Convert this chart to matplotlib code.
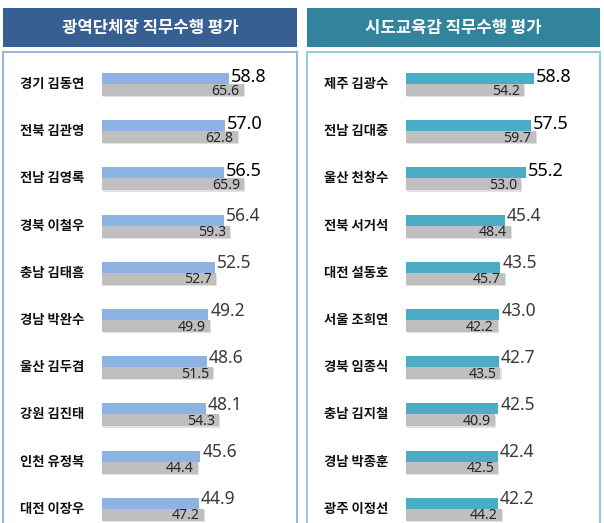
import matplotlib
matplotlib.use("Agg")
import matplotlib.pyplot as plt
from matplotlib.patches import Rectangle
import matplotlib.patheffects as pe

plt.rcParams['font.family'] = ['Noto Sans CJK KR', 'DejaVu Sans']

# ---- data ----
left_title = "광역단체장 직무수행 평가"
left_names = ["경기 김동연", "전북 김관영", "전남 김영록", "경북 이철우", "충남 김태흠",
              "경남 박완수", "울산 김두겸", "강원 김진태", "인천 유정복", "대전 이장우"]
left_now = [58.8, 57.0, 56.5, 56.4, 52.5, 49.2, 48.6, 48.1, 45.6, 44.9]
left_prev = [65.6, 62.8, 65.9, 59.3, 52.7, 49.9, 51.5, 54.3, 44.4, 47.2]

right_title = "시도교육감 직무수행 평가"
right_names = ["제주 김광수", "전남 김대중", "울산 천창수", "전북 서거석", "대전 설동호",
               "서울 조희연", "경북 임종식", "충남 김지철", "경남 박종훈", "광주 이정선"]
right_now = [58.8, 57.5, 55.2, 45.4, 43.5, 43.0, 42.7, 42.5, 42.4, 42.2]
right_prev = [54.2, 59.7, 53.0, 48.4, 45.7, 42.2, 43.5, 40.9, 42.5, 44.2]

W, H = 604, 523
fig = plt.figure(figsize=(W / 100, H / 100), dpi=100)
fig.patch.set_facecolor('white')

PX = 0.72  # points per pixel at dpi 100
num_font = ['Noto Sans', 'DejaVu Sans']


def panel(px_left, px_right, zero_px, scale, title, head_color, border_color,
          bar_color, names, now, prev):
    # header
    fig.add_artist(Rectangle((px_left / W, 1 - 47 / H), (px_right - px_left) / W, 39 / H,
                             transform=fig.transFigure, facecolor=head_color,
                             edgecolor='none'))
    fig.text((px_left + px_right) / 2 / W, 1 - 27.5 / H, title, color='white',
             fontsize=12, fontweight='bold', ha='center', va='center')

    top_px, row0_px, step = 52, 84, 47.2
    ax = fig.add_axes([px_left / W, 0, (px_right - px_left) / W, 1 - top_px / H])
    ax.set_xlim(-(zero_px - px_left) / scale, (px_right - zero_px) / scale)
    ax.set_ylim((H - row0_px) / step, (top_px - row0_px) / step)
    ax.set_xticks([])
    ax.set_yticks([])
    for s in ['left', 'right', 'top']:
        ax.spines[s].set_color(border_color)
        ax.spines[s].set_linewidth(1.4)
    ax.spines['bottom'].set_visible(False)

    hb = 11 / step
    hg = 12 / step
    ys = list(range(len(names)))
    ax.barh([y - hb for y in ys], now, height=hb, align='edge', color=bar_color,
            edgecolor='none', zorder=3)
    gb = ax.barh(ys, prev, height=hg, align='edge', color='#bfbfbf',
                 edgecolor='none', zorder=2)
    for p in gb.patches:
        p.set_path_effects([pe.SimplePatchShadow(offset=(0.8, -0.8),
                                                 shadow_rgbFace='#e0e0e0', alpha=1.0),
                            pe.Normal()])

    for i, (nm, a, b) in enumerate(zip(names, now, prev)):
        ax.text(-23, i, nm, ha='center', va='center', fontsize=9.6, fontweight='bold',
                color='#111111')
        top3 = i < 3
        ax.annotate(f"{a:.1f}", (a, i), xytext=(2 * PX, (2 if top3 else 4.5) * PX),
                    textcoords='offset points', ha='left', va='baseline',
                    fontsize=13 if top3 else 12.5, family=num_font,
                    color='#000000' if top3 else '#3a3a3a', zorder=5)
        ax.annotate(f"{b:.1f}", (b, i + hg), xytext=(-4 * PX, 1.5 * PX),
                    textcoords='offset points', ha='right', va='baseline',
                    fontsize=10.2, family=num_font, color='#262626', zorder=5)


panel(3, 297, 102, 2.16, left_title, '#385f91', '#95b3d7', '#8db3e2',
      left_names, left_now, left_prev)
panel(307, 600, 406, 2.17, right_title, '#31849b', '#92cddc', '#4bacc6',
      right_names, right_now, right_prev)

fig.savefig('out.png', dpi=100, facecolor='white')
